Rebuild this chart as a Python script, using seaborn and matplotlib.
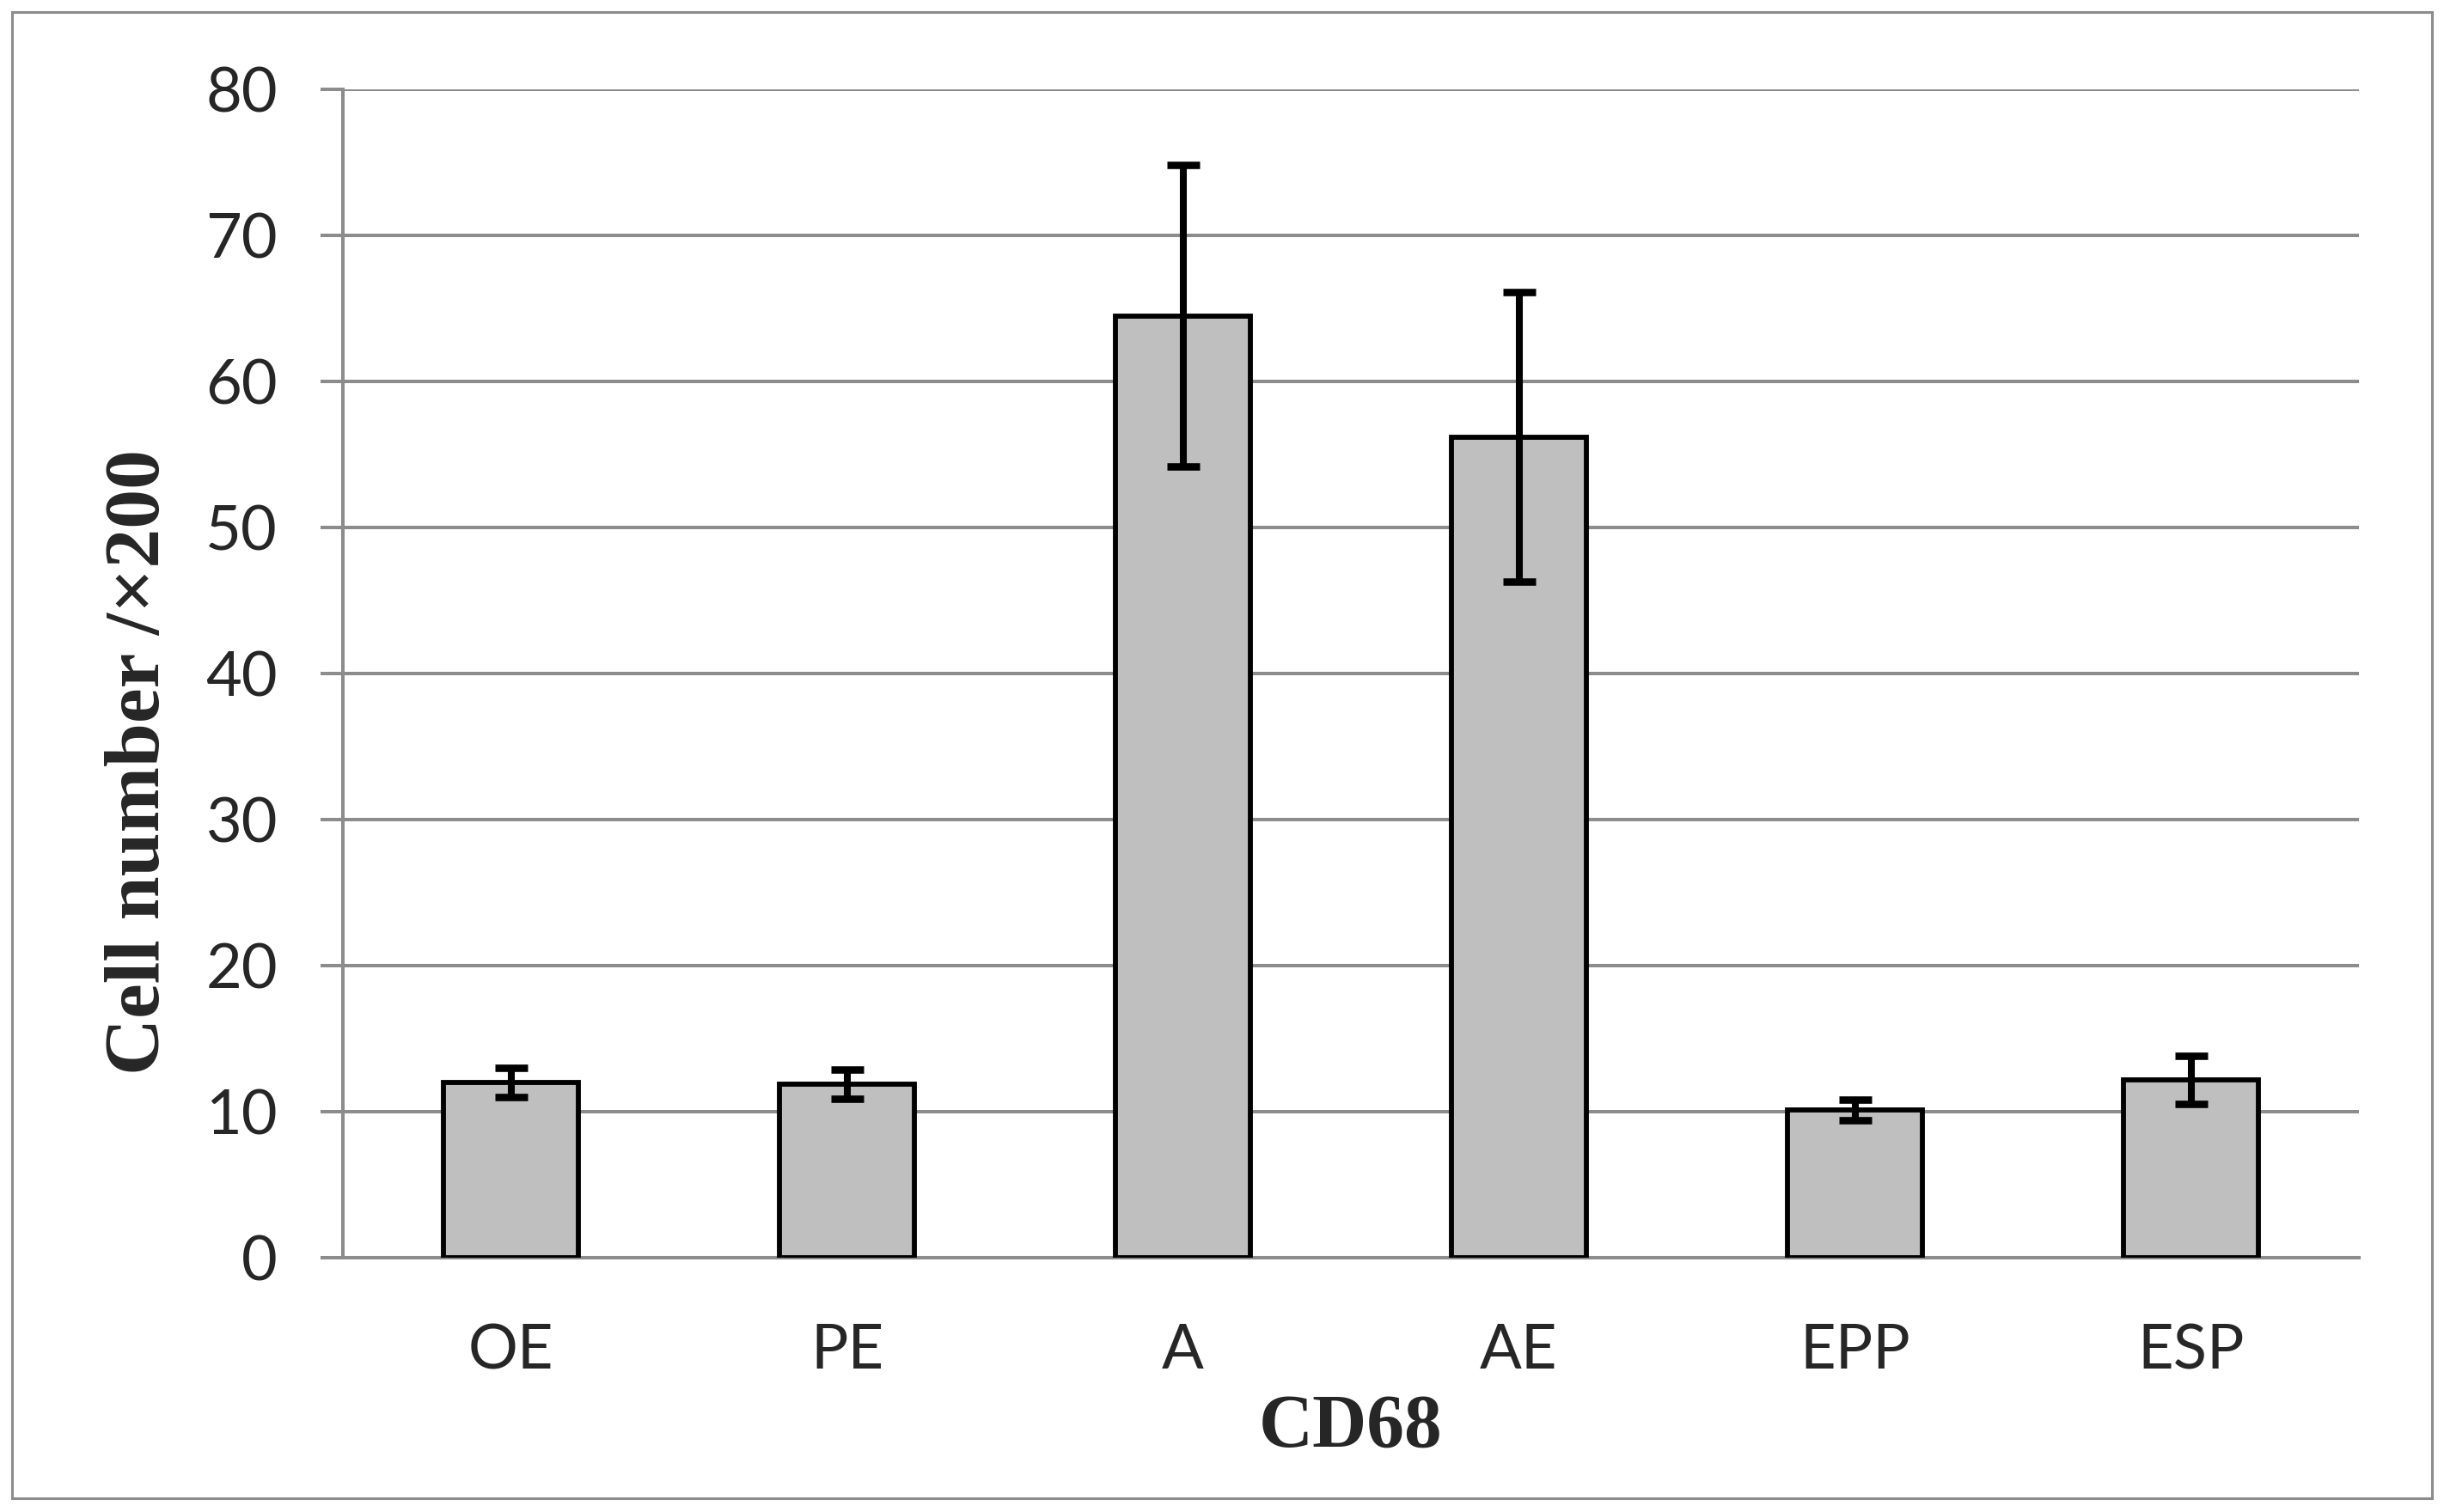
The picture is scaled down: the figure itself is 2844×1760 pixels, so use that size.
import matplotlib
matplotlib.use("Agg")
import matplotlib.pyplot as plt
import numpy as np
import seaborn as sns
from matplotlib.patches import Rectangle
from matplotlib.ticker import FixedLocator

# values
groups = ["OE", "PE", "A", "AE", "EPP", "ESP"]
cell_means = [12.0, 11.9, 64.5, 56.2, 10.1, 12.2]
cell_errs = [1.0, 1.0, 10.3, 9.9, 0.7, 1.65]
y_ticks = [0, 10, 20, 30, 40, 50, 60, 70, 80]

GRID = "#8C8C8C"
BAR = "#BFBFBF"

sns.set_style("white")
plt.rcParams["font.family"] = ["Lato", "DejaVu Sans"]

fig = plt.figure(figsize=(28.44, 17.6), dpi=100)
ax = fig.add_axes([0.1403, 0.1682, 0.8249, 0.7727])

sns.barplot(x=groups, y=cell_means, color=BAR, saturation=1, width=0.4,
            edgecolor="black", linewidth=4.2, ax=ax, zorder=3)
ax.errorbar(np.arange(len(groups)), cell_means, yerr=cell_errs, fmt="none",
            ecolor="black", elinewidth=5.8, capsize=13.5, capthick=6.2, zorder=4)

ax.set_xlim(-0.5, len(groups) - 0.5)
ax.set_ylim(0, 80)
ax.set_yticks(y_ticks)
ax.set_axisbelow(True)
ax.yaxis.grid(True, color=GRID, linewidth=2.9)
ax.xaxis.grid(False)

for side in ["top", "right"]:
    ax.spines[side].set_visible(False)
for side in ["left", "bottom"]:
    ax.spines[side].set_color(GRID)
    ax.spines[side].set_linewidth(2.9)

# excel style: ticks at category boundaries, labels at centres
ax.xaxis.set_minor_locator(FixedLocator(np.arange(-0.5, len(groups), 1.0)))
ax.tick_params(axis="x", which="major", length=0, pad=55, labelsize=52)
ax.tick_params(axis="x", which="minor", length=18.7, width=2.9, color=GRID,
               direction="out")
ax.tick_params(axis="y", which="major", length=18.7, width=2.9, color=GRID,
               direction="out", pad=36, labelsize=52, left=True)

ax.set_ylabel("Cell number /×200", fontsize=66, fontweight="bold",
              family=["Liberation Serif", "DejaVu Serif"], va="center")
ax.yaxis.set_label_coords(-0.1006, 0.424)
ax.set_xlabel("CD68", fontsize=63, fontweight="bold",
              family=["Liberation Serif", "DejaVu Serif"], va="center")
ax.xaxis.set_label_coords(0.5, -0.146)

fig.patches.append(Rectangle((0.0049, 0.0091), 0.9902, 0.983,
                             transform=fig.transFigure, fill=False,
                             edgecolor=GRID, linewidth=2.2))

fig.savefig("out.png", dpi=100)
